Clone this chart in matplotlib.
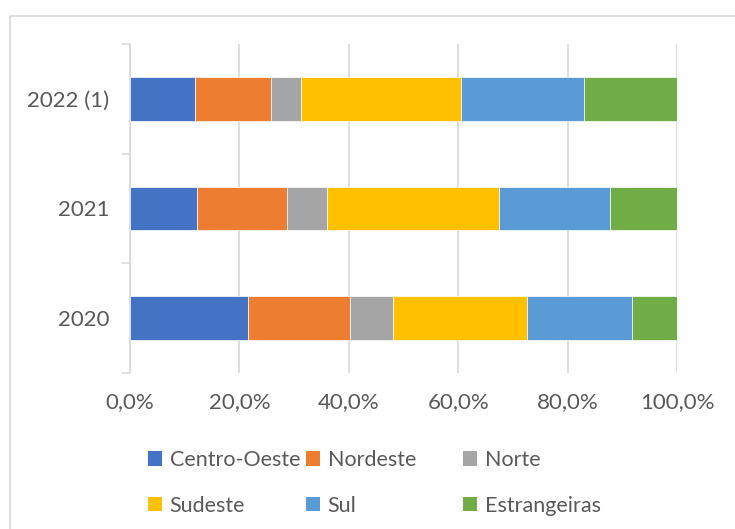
import matplotlib.pyplot as plt
from matplotlib.patches import Rectangle, Patch

plt.rcParams['font.family'] = ['Lato', 'DejaVu Sans']

anos = ["2020", "2021", "2022 (1)"]
regioes = ["Centro-Oeste", "Nordeste", "Norte", "Sudeste", "Sul", "Estrangeiras"]
cores = ["#4472C4", "#ED7D31", "#A5A5A5", "#FFC000", "#5B9BD5", "#70AD47"]

# shares (%) per region, in the order of anos
centro_oeste = [21.6, 12.2, 11.9]
nordeste = [18.7, 16.5, 13.9]
norte = [7.8, 7.3, 5.5]
sudeste = [24.4, 31.5, 29.3]
sul = [19.2, 20.3, 22.4]
estrangeiras = [8.3, 12.2, 17.0]
series = [centro_oeste, nordeste, norte, sudeste, sul, estrangeiras]

texto = "#595959"
cinza = "#d9d9d9"

fig = plt.figure(figsize=(7.35, 5.29), dpi=100)
fig.patches.append(Rectangle((10 / 735, -0.05), 1.0, 1 - 16 / 529 + 0.05,
                             transform=fig.transFigure, fill=False,
                             edgecolor=cinza, linewidth=1.2))

ax = fig.add_axes([130 / 735, 1 - 373 / 529, 547 / 735, 329 / 529])

y = list(range(len(anos)))
base = [0.0] * len(anos)
for vals, nome, cor in zip(series, regioes, cores):
    tot = [sum(s[i] for s in series) for i in range(len(anos))]
    frac = [v / t * 100 for v, t in zip(vals, tot)]
    ax.barh(y, frac, left=base, height=0.4, color=cor, label=nome,
            edgecolor="white", linewidth=0.5, zorder=3)
    base = [b + f for b, f in zip(base, frac)]

ax.set_xlim(0, 100)
ax.set_ylim(-0.5, 2.5)
ax.set_xticks(range(0, 101, 20))
ax.set_xticklabels([f"{v},0%" for v in range(0, 101, 20)])
ax.set_yticks(y)
ax.set_yticklabels(anos)
ax.set_yticks([-0.5, 0.5, 1.5, 2.5], minor=True)
ax.grid(axis="x", color=cinza, linewidth=1.2, zorder=0)

for s in ["top", "right", "bottom"]:
    ax.spines[s].set_visible(False)
ax.spines["left"].set_color(cinza)
ax.spines["left"].set_linewidth(1.2)

ax.tick_params(axis="x", length=0, pad=14, labelsize=16, labelcolor=texto)
ax.tick_params(axis="y", which="major", length=0, pad=15, labelsize=16, labelcolor=texto)
ax.tick_params(axis="y", which="minor", length=6, width=1.2, color=cinza)

# legend: three columns at fixed positions, as in the original
handles = [Patch(facecolor=c) for c in cores]
col_x = [148, 306, 463]
for j, x in enumerate(col_x):
    leg = fig.legend([handles[j], handles[j + 3]], [regioes[j], regioes[j + 3]],
                     loc="upper left", bbox_to_anchor=(x / 735, 1 - 450 / 529),
                     frameon=False, fontsize=15.5, labelcolor=texto,
                     handlelength=0.65, handleheight=0.65, handletextpad=0.35,
                     labelspacing=1.2, borderaxespad=0, borderpad=0)

fig.savefig("out.png", dpi=100)
